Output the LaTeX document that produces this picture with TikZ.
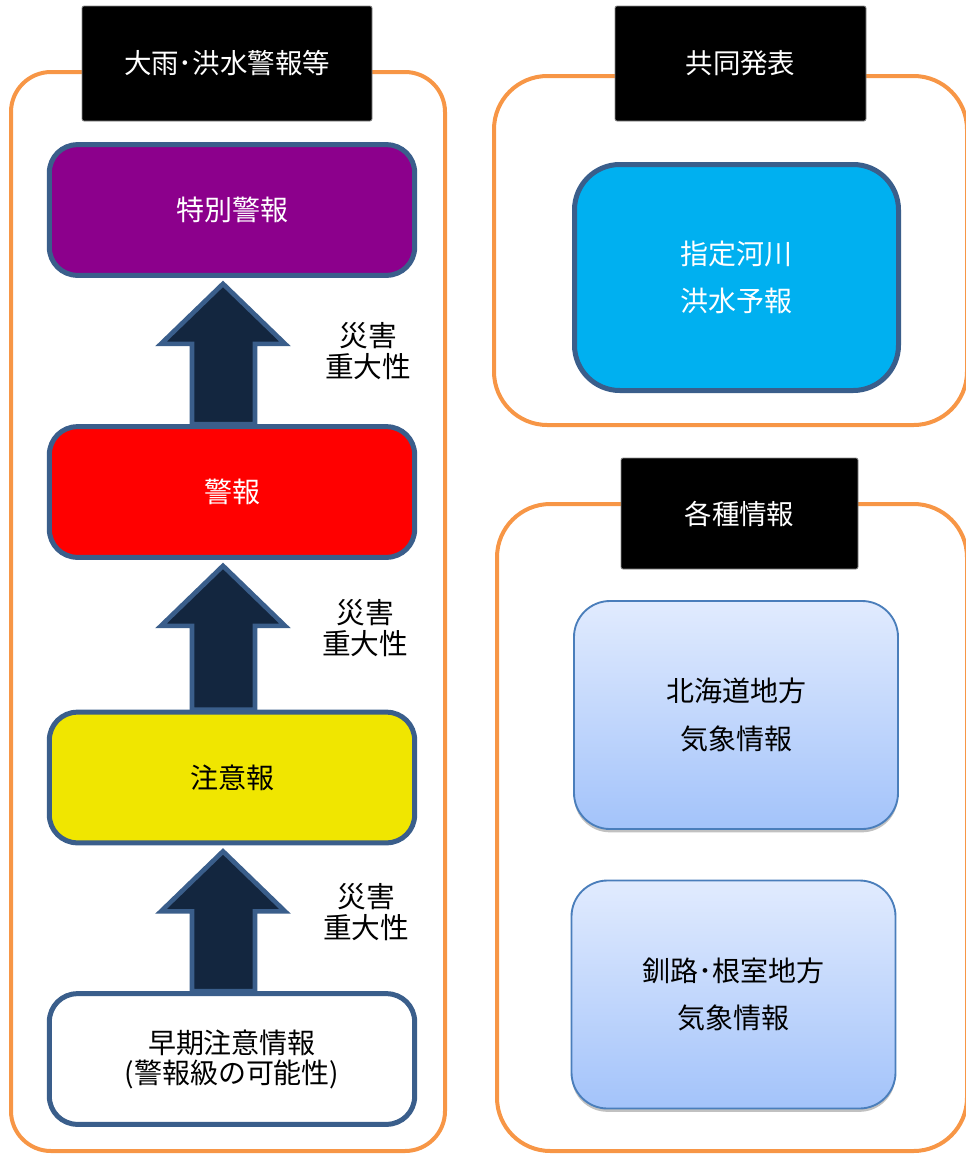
\documentclass[tikz,border=0pt]{standalone}
\usepackage{fontspec}
\newfontfamily\jp{Noto Sans CJK JP}
\usetikzlibrary{calc,shadows,backgrounds}
\definecolor{frameorange}{HTML}{F79646}
\definecolor{boxborder}{HTML}{3A5E8B}
\definecolor{tokupurple}{HTML}{8C008C}
\definecolor{keihored}{HTML}{FF0000}
\definecolor{chuiyellow}{HTML}{F0E600}
\definecolor{arrownavy}{HTML}{13263F}
\definecolor{skyblue}{HTML}{00B0F0}
\definecolor{gradtop}{HTML}{E1EBFE}
\definecolor{gradbot}{HTML}{A3C3FA}
\definecolor{gradborder}{HTML}{4A7EBB}
\begin{document}
\begin{tikzpicture}[x=0.75pt,y=-0.75pt,
  frame/.style={draw=frameorange,line width=3pt},
  titlebox/.style={fill=black,draw=black!45,line width=0.6pt,rounded corners=1.5pt,
    text=white,font=\jp\fontsize{20.6pt}{24pt}\selectfont,inner sep=0pt},
  lvl/.style={draw=boxborder,line width=3.75pt,rounded corners=21pt,
    minimum width=274pt,minimum height=98pt,inner sep=0pt,align=center,
    font=\jp\fontsize{21pt}{22.5pt}\selectfont},
  bigarrow/.style={fill=arrownavy,draw=boxborder,line width=3.5pt,line join=miter},
  sidelabel/.style={align=center,font=\jp\fontsize{21.5pt}{23.25pt}\selectfont,inner sep=0pt},
  bluebox/.style={draw=boxborder,line width=3.75pt,rounded corners=34pt,fill=skyblue,
    minimum width=243pt,minimum height=169.5pt,inner sep=0pt,align=center,text=white,
    font=\jp\fontsize{21pt}{35.5pt}\selectfont},
  gradbox/.style={draw=gradborder,line width=1.4pt,rounded corners=27pt,
    top color=gradtop,bottom color=gradbot,
    drop shadow={shadow xshift=0pt,shadow yshift=-2.5pt,opacity=0.35,fill=black!70},
    minimum width=243pt,minimum height=171pt,inner sep=0pt,align=center,
    font=\jp\fontsize{21pt}{35.5pt}\selectfont}
]
\useasboundingbox (0,0) rectangle (966,1154);

% frames
\draw[frame,rounded corners=30pt] (11,72) rectangle (445,1151);
\draw[frame,rounded corners=40pt] (494,76) rectangle (967,425);
\draw[frame,rounded corners=40pt] (497,504) rectangle (967,1151);

% title boxes
\node[titlebox,minimum width=217.5pt,minimum height=86.25pt] (t1) at (227,63.5) {大雨･洪水警報等};
\node[titlebox,minimum width=188.25pt,minimum height=86.25pt] (t2) at (740.5,63.5) {共同発表};
\node[titlebox,minimum width=177.75pt,minimum height=83.25pt] (t3) at (739.5,513.5) {各種情報};

% level boxes
\node[lvl,fill=tokupurple,text=white] (toku) at (232,210) {特別警報};
\node[lvl,fill=keihored,text=white] (keiho) at (232,492) {警報};
\node[lvl,fill=chuiyellow,text=black] (chui) at (232,777.5) {注意報};
\node[lvl,fill=white,text=black] (soki) at (232,1059) {早期注意情報\\(警報級の可能性)};

% arrows
\begin{scope}[on background layer]
\foreach \a/\b in {keiho/toku,chui/keiho,soki/chui}{
  \draw[bigarrow] ($(\b.south)+(-9,6)$) -- ($(\b.south)+(53,66)$) -- ($(\b.south)+(23,66)$)
    -- ($(\a.north)+(23,0)$) -- ($(\a.north)+(-40,0)$) -- ($(\b.south)+(-40,66)$)
    -- ($(\b.south)+(-71,66)$) -- cycle;
}
\end{scope}

% side labels
\node[sidelabel] (l1) at (368,351) {災害\\重大性};
\node[sidelabel] (l2) at (365,628) {災害\\重大性};
\node[sidelabel] (l3) at (366,912) {災害\\重大性};

% right boxes
\node[bluebox] (kasen) at (736.5,277.5) {指定河川\\洪水予報};
\node[gradbox] (hok) at (736,715) {北海道地方\\気象情報};
\node[gradbox] (kus) at (733.5,994.5) {釧路･根室地方\\気象情報};
\end{tikzpicture}
\end{document}
